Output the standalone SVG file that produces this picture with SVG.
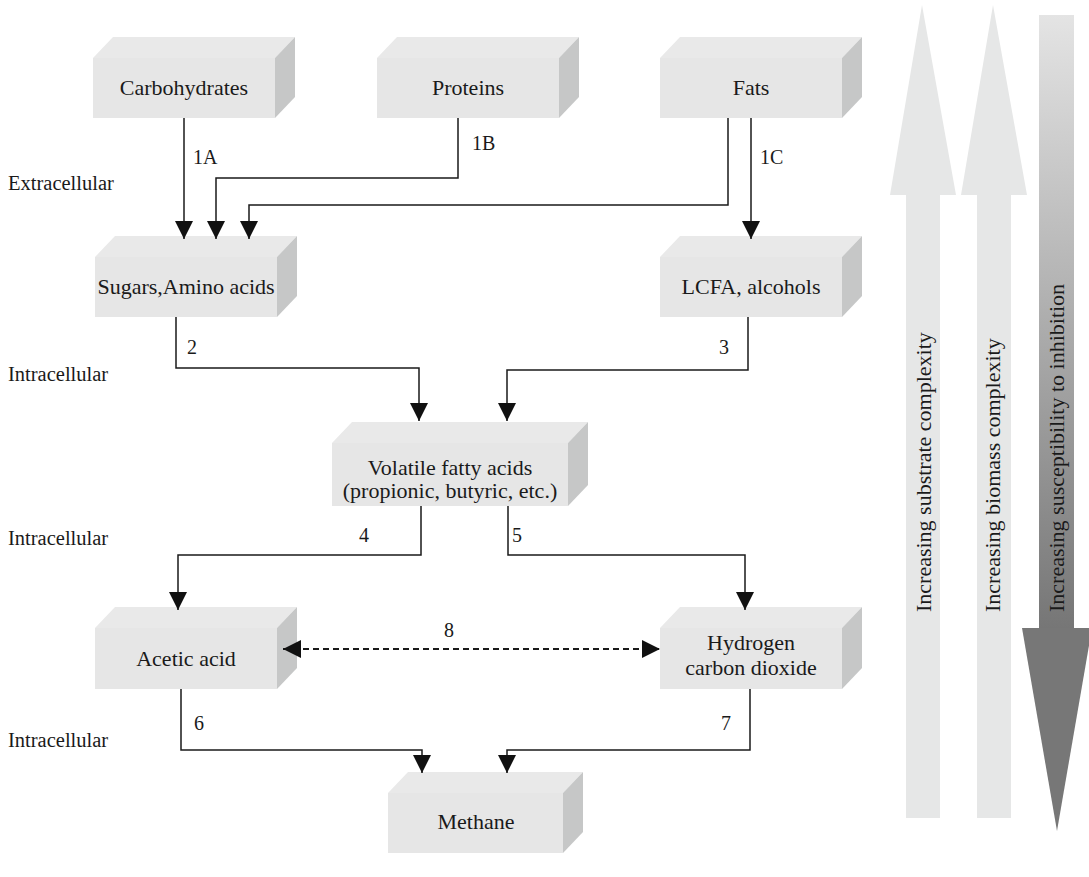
<svg xmlns="http://www.w3.org/2000/svg" width="1089" height="877" viewBox="0 0 1089 877">
<defs>
<style>
text{font-family:"Liberation Serif","Times New Roman",serif;fill:#1a1a1a}
.lbl{font-size:20.5px}
.num{font-size:20px}
.bt{font-size:22px;text-anchor:middle}
.vt{font-size:22px}
.front{fill:#e6e6e6}
.top{fill:#e9e9e9}
.side{fill:#c6c7c7}
.c{fill:none;stroke:#1a1a1a;stroke-width:1.5}
.d{fill:none;stroke:#1a1a1a;stroke-width:2;stroke-dasharray:6 4}
</style>
<marker id="ah" viewBox="0 0 18 18" refX="18" refY="9" markerWidth="18" markerHeight="18" markerUnits="userSpaceOnUse" orient="auto-start-reverse">
<path d="M0,0 L18,9 L0,18 z" fill="#111"/>
</marker>
<linearGradient id="gr" x1="0" y1="0" x2="0" y2="1">
<stop offset="0" stop-color="#e4e4e4"/>
<stop offset="1" stop-color="#767676"/>
</linearGradient>
</defs>
<rect width="1089" height="877" fill="#fff"/>

<g id="side-labels">
<text class="lbl" x="8" y="190">Extracellular</text>
<text class="lbl" x="8" y="381">Intracellular</text>
<text class="lbl" x="8" y="545">Intracellular</text>
<text class="lbl" x="8" y="747">Intracellular</text>
</g>

<g id="carbohydrates">
<polygon class="top" points="93,58 113,37 295,37 275,58"/>
<polygon class="side" points="275,58 295,37 295,97 275,118"/>
<rect class="front" x="93" y="58" width="182" height="60"/>
<text class="bt" x="184" y="95">Carbohydrates</text>
</g>
<g id="proteins">
<polygon class="top" points="377,58 397,37 579,37 559,58"/>
<polygon class="side" points="559,58 579,37 579,97 559,118"/>
<rect class="front" x="377" y="58" width="182" height="60"/>
<text class="bt" x="468" y="95">Proteins</text>
</g>
<g id="fats">
<polygon class="top" points="660,58 680,37 862,37 842,58"/>
<polygon class="side" points="842,58 862,37 862,97 842,118"/>
<rect class="front" x="660" y="58" width="182" height="60"/>
<text class="bt" x="751" y="95">Fats</text>
</g>
<g id="sugars">
<polygon class="top" points="95,257 115,236 297,236 277,257"/>
<polygon class="side" points="277,257 297,236 297,296 277,317"/>
<rect class="front" x="95" y="257" width="182" height="60"/>
<text class="bt" x="186" y="294">Sugars,Amino acids</text>
</g>
<g id="lcfa">
<polygon class="top" points="660,257 680,236 862,236 842,257"/>
<polygon class="side" points="842,257 862,236 862,296 842,317"/>
<rect class="front" x="660" y="257" width="182" height="60"/>
<text class="bt" x="751" y="294">LCFA, alcohols</text>
</g>
<g id="vfa">
<polygon class="top" points="332,443 352,422 588,422 568,443"/>
<polygon class="side" points="568,443 588,422 588,485 568,506"/>
<rect class="front" x="332" y="443" width="236" height="63"/>
<text class="bt" x="450" y="475">Volatile fatty acids</text>
<text class="bt" x="450" y="498">(propionic, butyric, etc.)</text>
</g>
<g id="acetic">
<polygon class="top" points="95,628 115,607 297,607 277,628"/>
<polygon class="side" points="277,628 297,607 297,668 277,689"/>
<rect class="front" x="95" y="628" width="182" height="61"/>
<text class="bt" x="186" y="666">Acetic acid</text>
</g>
<g id="hydrogen">
<polygon class="top" points="660,628 680,607 862,607 842,628"/>
<polygon class="side" points="842,628 862,607 862,668 842,689"/>
<rect class="front" x="660" y="628" width="182" height="61"/>
<text class="bt" x="751" y="650">Hydrogen</text>
<text class="bt" x="751" y="675">carbon dioxide</text>
</g>
<g id="methane">
<polygon class="top" points="388,793 408,772 583,772 563,793"/>
<polygon class="side" points="563,793 583,772 583,832 563,853"/>
<rect class="front" x="388" y="793" width="175" height="60"/>
<text class="bt" x="476" y="829">Methane</text>
</g>

<g id="connectors">
<path class="c" d="M184,118 V239" marker-end="url(#ah)"/>
<path class="c" d="M458,118 V178 H216 V239" marker-end="url(#ah)"/>
<path class="c" d="M728,118 V205 H249 V239" marker-end="url(#ah)"/>
<path class="c" d="M751,118 V239" marker-end="url(#ah)"/>
<path class="c" d="M176,317 V368 H419 V421" marker-end="url(#ah)"/>
<path class="c" d="M748,317 V370 H507 V421" marker-end="url(#ah)"/>
<path class="c" d="M421,506 V555 H178 V610" marker-end="url(#ah)"/>
<path class="c" d="M508,506 V555 H745 V610" marker-end="url(#ah)"/>
<path class="c" d="M181,689 V750 H422 V773" marker-end="url(#ah)"/>
<path class="c" d="M750,689 V750 H507 V773" marker-end="url(#ah)"/>
<path class="d" d="M283,649 H660" marker-start="url(#ah)" marker-end="url(#ah)"/>
<text class="num" x="193" y="164">1A</text>
<text class="num" x="472" y="150">1B</text>
<text class="num" x="760" y="164">1C</text>
<text class="num" x="187" y="354">2</text>
<text class="num" x="719" y="354">3</text>
<text class="num" x="359" y="542">4</text>
<text class="num" x="512" y="542">5</text>
<text class="num" x="444" y="637">8</text>
<text class="num" x="194" y="730">6</text>
<text class="num" x="721" y="730">7</text>
</g>

<g id="trend-arrows">
<polygon fill="#e6e7e7" points="922,5 956,195 940,195 940,818 906,818 906,195 890,195"/>
<polygon fill="#e6e7e7" points="993,5 1027,195 1011,195 1011,818 977,818 977,195 961,195"/>
<rect x="1039" y="15" width="35" height="614" fill="url(#gr)"/>
<polygon fill="#777" points="1022,628 1092,628 1057,831"/>
<text class="vt" transform="translate(931,612) rotate(-90)">Increasing substrate complexity</text>
<text class="vt" transform="translate(1000,612) rotate(-90)">Increasing biomass complexity</text>
<text class="vt" transform="translate(1064,612) rotate(-90)">Increasing susceptibility to inhibition</text>
</g>
</svg>
